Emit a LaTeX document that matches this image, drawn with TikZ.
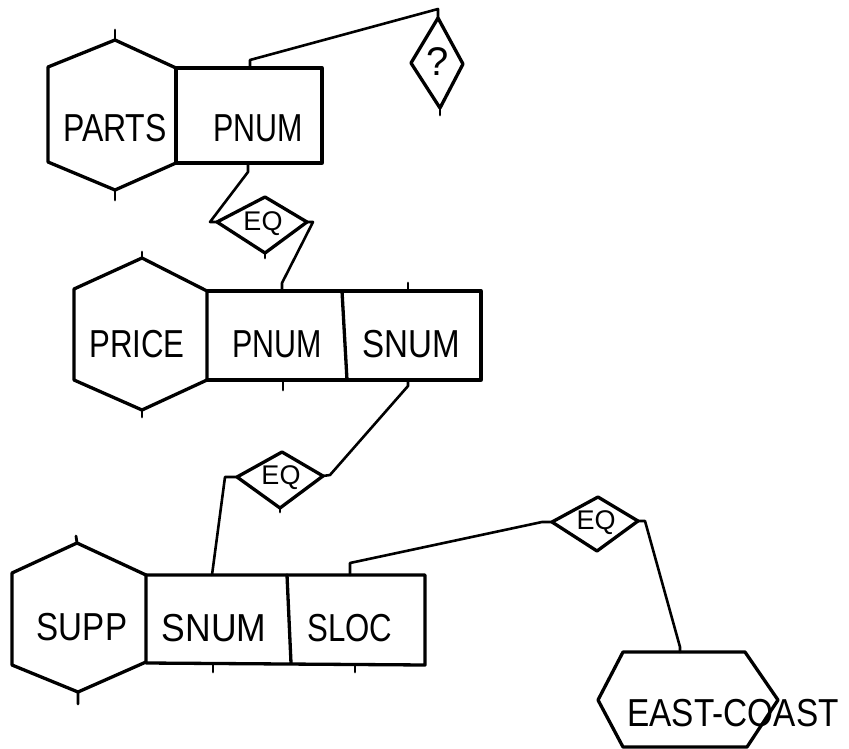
\documentclass[tikz,border=0pt]{standalone}
\usepackage{fontspec}
\usepackage{graphicx}
\setmainfont{Liberation Sans}
\newcommand\narrow[2][0.8]{\scalebox{#1}[1]{#2}}
\begin{document}
\begin{tikzpicture}[x=1pt,y=-1pt, line join=round, line cap=round,
  outline/.style={line width=3.3pt},
  conn/.style={line width=2.6pt},
  tick/.style={line width=2.8pt},
  lbl/.style={font=\fontsize{39}{41}\selectfont, inner sep=0pt},
  smalllbl/.style={font=\fontsize{27}{29}\selectfont, inner sep=0pt}]
\useasboundingbox[fill=white] (0,0) rectangle (849,749);

% ---------- PARTS row ----------
\draw[outline] (115,40) -- (48,67) -- (48,162) -- (115,190) -- (176,163) -- (176,68) -- cycle;
\draw[outline] (176,68) rectangle (322,163);
\draw[tick] (115,40) -- (115,30) (115,190) -- (115,200);
\node[lbl] (parts) at (115,128) {\narrow[0.82]{PARTS}};
\node[lbl] (pnum1) at (258,128) {\narrow[0.78]{PNUM}};
\coordinate (pnum1top) at (250,68);
\coordinate (pnum1bot) at (248,163);

% ? diamond
\draw[outline] (438,18) -- (463,64) -- (440,108) -- (411,63) -- cycle;
\draw[tick] (440,108) -- (440,115);
\node[lbl, font=\fontsize{40}{42}\selectfont] (q) at (438,62) {?};
\coordinate (qtop) at (438,18);
\draw[conn] (pnum1top) -- (250,60) -- (438,9) -- (qtop);

% ---------- EQ 1 ----------
\draw[outline] (217,222) -- (265,197) -- (307,222) -- (265,253) -- cycle;
\node[smalllbl] (eq1) at (263,224) {EQ};
\coordinate (eq1l) at (210,222);
\coordinate (eq1r) at (313,222);
\draw[tick] (265,253) -- (265,258);
\draw[conn] (pnum1bot) -- (248,172) -- (eq1l) -- (217,222);
\draw[conn] (307,222) -- (eq1r) -- (282,283) -- (282,291);

% ---------- PRICE row ----------
\draw[outline] (142,258) -- (74,289) -- (74,380) -- (142,410) -- (207,380) -- (207,291) -- cycle;
\draw[outline] (207,291) -- (481,291) -- (481,380) -- (207,380);
\draw[outline] (342,291) -- (347,380);
\draw[tick] (142,258) -- (142,252) (142,410) -- (142,417);
\draw[tick] (408,291) -- (408,283) (283,380) -- (283,390);
\node[lbl] (price) at (137,344) {\narrow[0.8]{PRICE}};
\node[lbl] (pnum2) at (277,344) {\narrow[0.78]{PNUM}};
\node[lbl] (snum2) at (411,344) {\narrow[0.85]{SNUM}};
\coordinate (snum2bot) at (408,380);

% ---------- EQ 2 ----------
\draw[outline] (237,477) -- (282,452) -- (323,476) -- (280,508) -- cycle;
\node[smalllbl] (eq2) at (281,478) {EQ};
\draw[tick] (280,508) -- (280,512);
\coordinate (eq2r) at (330,475);
\coordinate (eq2l) at (225,477);
\draw[conn] (snum2bot) -- (408,386) -- (eq2r) -- (323,476);
\draw[conn] (237,477) -- (eq2l) -- (212,575);

% ---------- SUPP row ----------
\draw[outline] (77,543) -- (12,573) -- (12,665) -- (78,692) -- (146,662) -- (146,575) -- cycle;
\draw[outline] (146,575) -- (425,575) -- (425,665) -- (146,663);
\draw[outline] (287,575) -- (291,663);
\draw[tick] (77,543) -- (76,536) (78,692) -- (78,704);
\draw[tick] (213,664) -- (213,672) (355,665) -- (355,672);
\node[lbl] (supp) at (82,627) {\narrow[0.85]{SUPP}};
\node[lbl] (snum3) at (214,628) {\narrow[0.91]{SNUM}};
\node[lbl] (sloc) at (350,628) {\narrow[0.8]{SLOC}};
\coordinate (sloctop) at (350,575);

% ---------- EQ 3 ----------
\draw[outline] (552,522) -- (598,497) -- (638,521) -- (597,551) -- cycle;
\node[smalllbl] (eq3) at (596,523) {EQ};
\coordinate (eq3l) at (542,522);
\coordinate (eq3r) at (645,521);
\draw[conn] (sloctop) -- (350,563) -- (eq3l) -- (552,522);
\draw[conn] (638,521) -- (eq3r) -- (680,647) -- (680,652);

% ---------- EAST-COAST ----------
\draw[outline] (598,700) -- (623,652) -- (745,652) -- (778,700) -- (747,747) -- (623,747) -- cycle;
\node[lbl] (east) at (733,713) {\narrow[0.855]{EAST-COAST}};
\end{tikzpicture}
\end{document}
